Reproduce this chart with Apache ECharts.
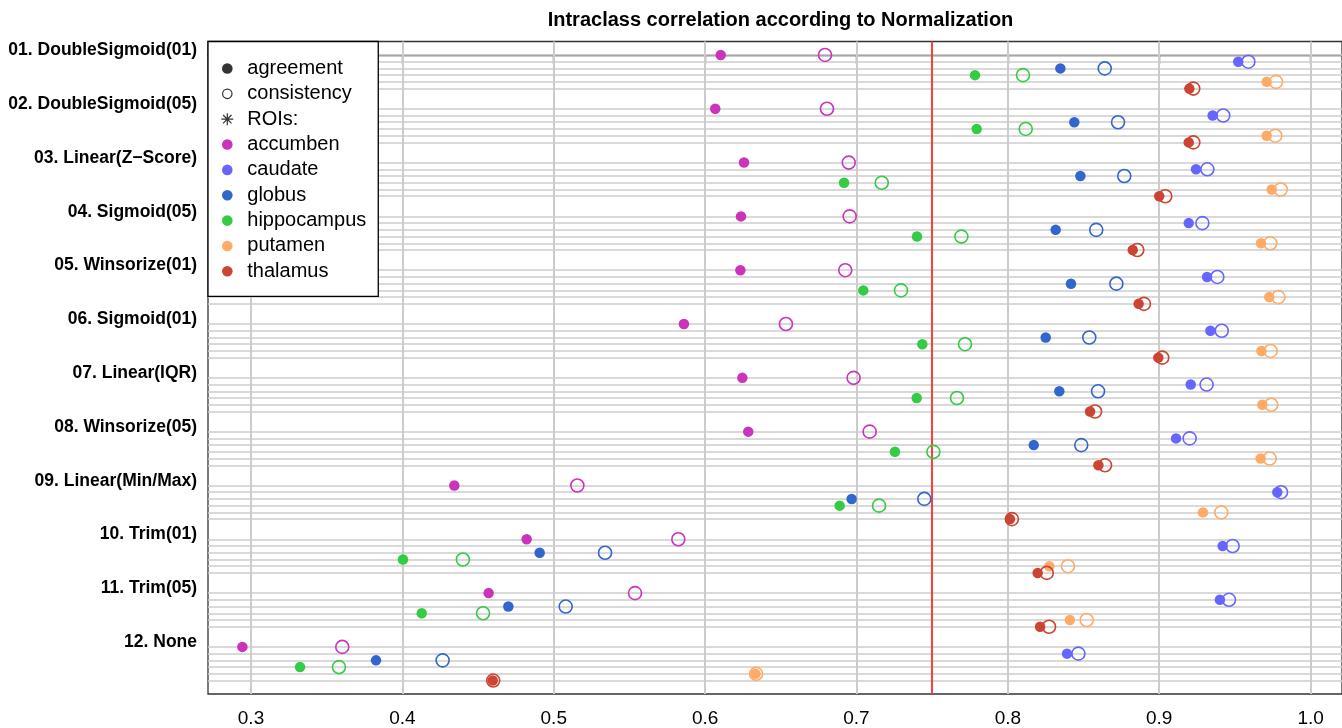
<!DOCTYPE html>
<html>
<head>
<meta charset="utf-8">
<title>Intraclass correlation according to Normalization</title>
<script src="https://cdn.jsdelivr.net/npm/echarts@6/dist/echarts.min.js"></script>
<style>
  html, body { margin: 0; padding: 0; background: #ffffff; }
  #chart { width: 1342px; height: 728px; }
</style>
</head>
<body>
<div id="chart"></div>
<script>
// Normalization methods (one block of rows each), top to bottom
const normalizations = [
  '01. DoubleSigmoid(01)', '02. DoubleSigmoid(05)', '03. Linear(Z\u2212Score)',
  '04. Sigmoid(05)', '05. Winsorize(01)', '06. Sigmoid(01)', '07. Linear(IQR)',
  '08. Winsorize(05)', '09. Linear(Min/Max)', '10. Trim(01)', '11. Trim(05)', '12. None'
];
// Regions of interest, one row each inside a block
const rois = ['accumben', 'caudate', 'globus', 'hippocampus', 'putamen', 'thalamus'];
const xTicks = [0.3, 0.4, 0.5, 0.6, 0.7, 0.8, 0.9, 1.0];
const threshold = 0.75;

// ICC (agreement) per ROI, in normalization order
const agreeAccumben    = [0.6103, 0.6067, 0.6257, 0.6237, 0.6233, 0.5860, 0.6246, 0.6285, 0.4343, 0.4821, 0.4570, 0.2943];
const agreeCaudate     = [0.9522, 0.9353, 0.9243, 0.9195, 0.9316, 0.9338, 0.9208, 0.9111, 0.9780, 0.9419, 0.9401, 0.8391];
const agreeGlobus      = [0.8347, 0.8439, 0.8479, 0.8316, 0.8417, 0.8250, 0.8340, 0.8171, 0.6968, 0.4907, 0.4700, 0.3826];
const agreeHippocampus = [0.7783, 0.7794, 0.6918, 0.7400, 0.7045, 0.7435, 0.7398, 0.7254, 0.6889, 0.4004, 0.4128, 0.3324];
const agreePutamen     = [0.9710, 0.9710, 0.9743, 0.9672, 0.9727, 0.9675, 0.9681, 0.9670, 0.9289, 0.8274, 0.8410, 0.6333];
const agreeThalamus    = [0.9199, 0.9195, 0.9000, 0.8825, 0.8864, 0.8994, 0.8543, 0.8598, 0.8014, 0.8197, 0.8213, 0.4597];

// ICC (consistency) per ROI, in normalization order
const consAccumben    = [0.6792, 0.6805, 0.6949, 0.6955, 0.6926, 0.6534, 0.6981, 0.7087, 0.5156, 0.5823, 0.5537, 0.3603];
const consCaudate     = [0.9589, 0.9423, 0.9318, 0.9285, 0.9384, 0.9413, 0.9313, 0.9201, 0.9805, 0.9485, 0.9461, 0.8466];
const consGlobus      = [0.8640, 0.8728, 0.8769, 0.8584, 0.8717, 0.8538, 0.8596, 0.8485, 0.7448, 0.5339, 0.5079, 0.4266];
const consHippocampus = [0.8100, 0.8118, 0.7167, 0.7693, 0.7294, 0.7717, 0.7664, 0.7508, 0.7149, 0.4400, 0.4533, 0.3581];
const consPutamen     = [0.9772, 0.9767, 0.9803, 0.9734, 0.9787, 0.9736, 0.9740, 0.9730, 0.9410, 0.8397, 0.8521, 0.6337];
const consThalamus    = [0.9225, 0.9225, 0.9040, 0.8855, 0.8899, 0.9020, 0.8576, 0.8642, 0.8027, 0.8257, 0.8272, 0.4600];

const agreement   = [agreeAccumben, agreeCaudate, agreeGlobus, agreeHippocampus, agreePutamen, agreeThalamus];
const consistency = [consAccumben, consCaudate, consGlobus, consHippocampus, consPutamen, consThalamus];

// ---- styling / layout ----
const roiColors = ['#CC33BB', '#6666FF', '#3366CC', '#33CC44', '#FFAA66', '#CC4433'];
const FONT = '"Liberation Sans", Arial, Helvetica, sans-serif';
const SLOTS = 8;            // rows per block: 6 ROIs + 2 spacer rows
const LABEL_SHIFT = -0.7;   // block label sits just above its first row

const rowPos = (g, r) => g * SLOTS + r;
const rowLines = [];
normalizations.forEach((_, g) => rois.forEach((_, r) => rowLines.push(rowPos(g, r))));
const blockLabelPos = normalizations.map((_, g) => g * SLOTS + LABEL_SHIFT);

// legend icons, drawn inside a 30x12.5 box (centred)
const ICON_DOT  = 'path://M0,0M30,12.5M20.3,6.25A5.3,5.3,0,1,1,9.7,6.25A5.3,5.3,0,1,1,20.3,6.25Z';
const ICON_RING = 'path://M0,0M30,12.5M19.7,6.25A4.7,4.7,0,1,1,10.3,6.25A4.7,4.7,0,1,1,19.7,6.25Z';
const ICON_STAR = 'path://M0,0M30,12.5M15,0.3L15,12.2M9.05,6.25L20.95,6.25M10.8,2.05L19.2,10.45M19.2,2.05L10.8,10.45';

const series = [];

// light grid: vertical at ticks, horizontal at every ROI row
series.push({
  name: 'grid-lines', type: 'scatter', data: [], silent: true, z: 1,
  markLine: {
    z: 1, silent: true, symbol: ['none', 'none'], animation: false,
    label: { show: false },
    lineStyle: { color: '#cccccc', width: 1.5, type: 'solid' },
    emphasis: { disabled: true },
    data: xTicks.map(v => ({ xAxis: v, lineStyle: { color: '#cccccc', width: 2, type: 'solid' } }))
      .concat(rowLines.map(p => ({ yAxis: p })))
  }
});

// reference threshold
series.push({
  name: 'threshold', type: 'scatter', data: [], silent: true, z: 2,
  markLine: {
    z: 2, silent: true, symbol: ['none', 'none'], animation: false,
    label: { show: false },
    emphasis: { disabled: true },
    lineStyle: { color: '#ff2a2a', width: 1.8, type: 'solid' },
    data: [{ xAxis: threshold }]
  }
});

// legend-only entries
['agreement', 'consistency', 'ROIs:'].forEach(n => series.push({ name: n, type: 'scatter', data: [] }));

// filled dots: agreement
rois.forEach((roi, r) => {
  series.push({
    name: roi, type: 'scatter', z: 3,
    symbol: 'circle', symbolSize: 10.5,
    itemStyle: { color: roiColors[r], opacity: 1 },
    emphasis: { disabled: true },
    data: agreement[r].map((v, g) => [v, rowPos(g, r)])
  });
});

// open circles: consistency
rois.forEach((roi, r) => {
  series.push({
    name: roi, type: 'scatter', z: 4,
    symbol: 'circle', symbolSize: 13,
    itemStyle: { color: 'rgba(0,0,0,0)', borderColor: roiColors[r], borderWidth: 1.6, opacity: 1 },
    emphasis: { disabled: true },
    data: consistency[r].map((v, g) => [v, rowPos(g, r)])
  });
});

// plot region runs from x=208 to the right edge of the canvas
const GRID_LEFT = 208, GRID_WIDTH = 1134;
const PX_PER_UNIT = 1513.7, X_AT_03 = 251;
const xMin = 0.3 - (X_AT_03 - GRID_LEFT) / PX_PER_UNIT;
const xMax = xMin + GRID_WIDTH / PX_PER_UNIT;

const option = {
  animation: false,
  backgroundColor: '#ffffff',
  title: {
    text: 'Intraclass correlation according to Normalization',
    left: 780.5, top: 10.5, padding: 0, textAlign: 'center',
    textStyle: { fontFamily: FONT, fontSize: 20, fontWeight: 'bold', color: '#000' }
  },
  grid: {
    left: GRID_LEFT, top: 41.5, width: GRID_WIDTH, height: 652.8,
    show: true, borderColor: '#333', borderWidth: 1.3, backgroundColor: 'transparent'
  },
  xAxis: {
    type: 'value', min: xMin, max: xMax, position: 'bottom',
    axisLine: { show: true, lineStyle: { color: '#333', width: 1.3 } },
    axisTick: { show: true, customValues: xTicks, length: 9, lineStyle: { color: '#333', width: 1.3 } },
    axisLabel: {
      customValues: xTicks, formatter: v => Number(v).toFixed(1),
      fontFamily: FONT, fontSize: 19, color: '#000', margin: 15
    },
    splitLine: { show: false }
  },
  yAxis: {
    type: 'value', inverse: true, min: -2, max: 95,
    axisLine: { show: false }, axisTick: { show: false }, splitLine: { show: false },
    axisLabel: {
      customValues: blockLabelPos,
      formatter: v => normalizations[Math.round((v - LABEL_SHIFT) / SLOTS)] || '',
      fontFamily: FONT, fontSize: 17.5, fontWeight: 'bold', color: '#000', margin: 11
    }
  },
  legend: {
    orient: 'vertical', left: 208, top: 41.5,
    padding: [17, 12, 15, 3.7],
    itemWidth: 30, itemHeight: 12.5, itemGap: 5.35,
    backgroundColor: '#ffffff', borderColor: '#000', borderWidth: 1.3, borderRadius: 0,
    selectedMode: false, z: 10,
    textStyle: { fontFamily: FONT, fontSize: 20, color: '#000', lineHeight: 20 },
    data: [
      { name: 'agreement', icon: ICON_DOT, itemStyle: { color: '#000', borderWidth: 0 } },
      { name: 'consistency', icon: ICON_RING, itemStyle: { color: 'rgba(0,0,0,0)', borderColor: '#000', borderWidth: 1.2 } },
      { name: 'ROIs:', icon: ICON_STAR, itemStyle: { color: 'rgba(0,0,0,0)', borderColor: '#000', borderWidth: 1.2 } }
    ].concat(rois.map((n, i) => ({ name: n, icon: ICON_DOT, itemStyle: { color: roiColors[i], borderWidth: 0 } })))
  },
  series: series
};

const chart = echarts.init(document.getElementById('chart'), null, { renderer: 'canvas' });
chart.setOption(option);
</script>
</body>
</html>
